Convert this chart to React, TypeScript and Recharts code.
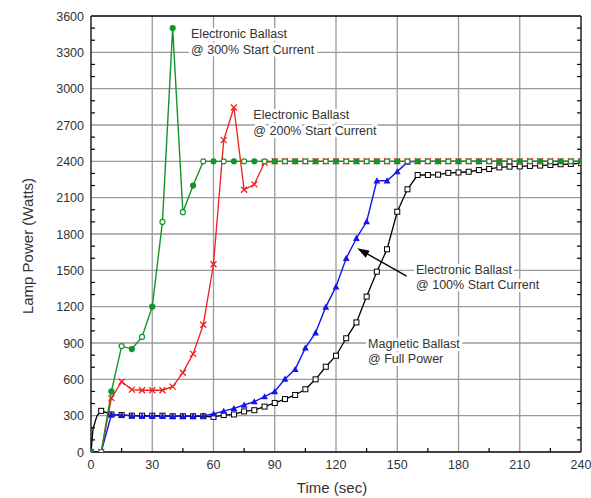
import React from "react";
import {
  LineChart,
  Line,
  XAxis,
  YAxis,
  CartesianGrid,
  ReferenceLine,
  ReferenceDot,
} from "recharts";

const xMajor = [30, 60, 90, 120, 150, 180, 210];
const xTicks = [0, 15, 30, 45, 60, 75, 90, 105, 120, 135, 150, 165, 180, 195, 210, 225, 240];
const yMajor = [300, 600, 900, 1200, 1500, 1800, 2100, 2400, 2700, 3000, 3300];
const yTicks = [
  0, 100, 200, 300, 400, 500, 600, 700, 800, 900, 1000, 1100, 1200, 1300, 1400, 1500, 1600, 1700,
  1800, 1900, 2000, 2100, 2200, 2300, 2400, 2500, 2600, 2700, 2800, 2900, 3000, 3100, 3200, 3300,
  3400, 3500, 3600,
];

const stepTime = [
  0, 5, 10, 15, 20, 25, 30, 35, 40, 45, 50, 55, 60, 65, 70, 75, 80, 85, 90, 95, 100, 105, 110, 115,
  120, 125, 130, 135, 140, 145, 150, 155, 160, 165, 170, 175, 180, 185, 190, 195, 200, 205, 210,
  215, 220, 225, 230, 235, 240,
];

// electronic ballast @ 300% start current
const green300 = [
  0, 0, 500, 875, 850, 950, 1200, 1900, 3500, 1980, 2200, 2400, 2400, 2400, 2400, 2400, 2400, 2400,
  2400, 2400, 2400, 2400, 2400, 2400, 2400, 2400, 2400, 2400, 2400, 2400, 2400, 2400, 2400, 2400,
  2400, 2400, 2400, 2400, 2400, 2400, 2400, 2400, 2400, 2400, 2400, 2400, 2400, 2400, 2400,
];

// electronic ballast @ 200% start current
const red200 = [
  0, 0, 445, 580, 515, 510, 510, 510, 540, 655, 810, 1050, 1550, 2575, 2845, 2165, 2210, 2390, 2400,
  2400, 2400, 2400, 2400, 2400, 2400, 2400, 2400, 2400, 2400, 2400, 2400, 2400, 2400, 2400, 2400,
  2400, 2400, 2400, 2400, 2400, 2400, 2400, 2400, 2400, 2400, 2400, 2400, 2400, 2400,
];

// electronic ballast @ 100% start current
const blue100 = [
  0, 0, 310, 305, 300, 295, 295, 295, 295, 295, 295, 300, 315, 338, 360, 388, 416, 457, 500, 603,
  683, 860, 985, 1198, 1365, 1600, 1765, 1902, 2240, 2240, 2315, 2395, 2400, 2400, 2400, 2400, 2400,
  2400, 2400, 2400, 2400, 2400, 2400, 2400, 2400, 2400, 2400, 2400, 2400,
];

// magnetic ballast @ full power
const magTime = [
  0, 1, 2, 3, 5, 10, 15, 20, 25, 30, 35, 40, 45, 50, 55, 60, 65, 70, 75, 80, 85, 90, 95, 100, 105,
  110, 115, 120, 125, 130, 135, 140, 145, 150, 155, 160, 165, 170, 175, 180, 185, 190, 195, 200, 205,
  210, 215, 220, 225, 230, 235, 240,
];
const magPower = [
  0, 190, 250, 300, 340, 310, 305, 300, 300, 300, 300, 295, 295, 295, 295, 290, 305, 310, 335, 345,
  375, 405, 437, 471, 518, 600, 704, 795, 939, 1070, 1283, 1489, 1674, 1984, 2169, 2287, 2287, 2290,
  2305, 2308, 2314, 2328, 2337, 2350, 2356, 2358, 2362, 2365, 2370, 2376, 2378, 2385,
];

const green = stepTime.map((t, i) => ({ t, w: green300[i] }));
const red = stepTime.map((t, i) => ({ t, w: red200[i] }));
const blue = stepTime.map((t, i) => ({ t, w: blue100[i] }));
const black = magTime.map((t, i) => ({ t, w: magPower[i] }));

const FONT = "'Liberation Sans', Arial, sans-serif";
const TEXT = "#333";
const GREEN = "#14932a";
const RED = "#f21d1d";
const BLUE = "#1414f0";

function BottomTick({ x, y, payload }: any) {
  const v = payload.value;
  const major = v % 30 === 0;
  return (
    <g>
      {!major && <line x1={x} x2={x} y1={y} y2={y - 4} stroke="#000" strokeWidth={1.2} />}
      {major && (
        <text x={x} y={y + 17} textAnchor="middle" fontSize={12.5} fontFamily={FONT} fill={TEXT}>
          {v}
        </text>
      )}
    </g>
  );
}

function TopTick({ x, y, payload }: any) {
  if (payload.value % 30 === 0) return <g />;
  return <line x1={x} x2={x} y1={y} y2={y + 4} stroke="#000" strokeWidth={1.2} />;
}

function LeftTick({ x, y, payload }: any) {
  const v = payload.value;
  const major = v % 300 === 0;
  return (
    <g>
      {!major && <line x1={x} x2={x + 4} y1={y} y2={y} stroke="#000" strokeWidth={1.2} />}
      {major && (
        <text x={x - 7} y={y + 4.5} textAnchor="end" fontSize={12.5} fontFamily={FONT} fill={TEXT}>
          {v}
        </text>
      )}
    </g>
  );
}

function RightTick({ x, y, payload }: any) {
  if (payload.value % 300 === 0) return <g />;
  return <line x1={x} x2={x - 4} y1={y} y2={y} stroke="#000" strokeWidth={1.2} />;
}

function GreenDot({ cx, cy, index }: any) {
  return (
    <circle
      key={index}
      cx={cx}
      cy={cy}
      r={2.5}
      fill={index % 2 === 0 ? GREEN : "#fff"}
      stroke={GREEN}
      strokeWidth={1.2}
    />
  );
}

function RedDot({ cx, cy, index }: any) {
  const s = 3;
  return (
    <path
      key={index}
      d={`M${cx - s},${cy - s}L${cx + s},${cy + s}M${cx - s},${cy + s}L${cx + s},${cy - s}`}
      stroke={RED}
      strokeWidth={1.3}
    />
  );
}

function BlueDot({ cx, cy, index }: any) {
  const s = 3.4;
  return (
    <polygon
      key={index}
      points={`${cx},${cy - s} ${cx - s},${cy + s * 0.8} ${cx + s},${cy + s * 0.8}`}
      fill={BLUE}
    />
  );
}

function BlackDot({ cx, cy, index, payload }: any) {
  if (payload.t % 5 !== 0) return <g key={index} />;
  return (
    <rect
      key={index}
      x={cx - 2.5}
      y={cy - 2.5}
      width={5}
      height={5}
      fill="#fff"
      stroke="#000"
      strokeWidth={1}
    />
  );
}

function Arrow({ x1, y1, x2, y2 }: any) {
  const a = Math.atan2(y2 - y1, x2 - x1);
  const len = 12;
  const half = 4;
  const bx = x2 - len * Math.cos(a);
  const by = y2 - len * Math.sin(a);
  const px = -Math.sin(a) * half;
  const py = Math.cos(a) * half;
  return (
    <g>
      <line x1={x1} y1={y1} x2={bx} y2={by} stroke="#000" strokeWidth={1.4} />
      <polygon points={`${x2},${y2} ${bx + px},${by + py} ${bx - px},${by - py}`} fill="#000" />
    </g>
  );
}

function note(lines: string[]) {
  return ({ cx, cy }: any) => (
    <g>
      {lines.map((s, i) => (
        <text
          key={i}
          x={cx}
          y={cy + i * 15.5 + 4.5}
          fontSize={12.5}
          fontFamily={FONT}
          fill={TEXT}
          stroke="#fff"
          strokeWidth={6}
          strokeLinejoin="round"
          style={{ paintOrder: "stroke" }}
        >
          {s}
        </text>
      ))}
    </g>
  );
}

function YTitle() {
  return (
    <text
      x={27}
      y={246}
      transform="rotate(-90 27 246)"
      textAnchor="middle"
      dominantBaseline="central"
      fontSize={15}
      fontFamily={FONT}
      fill={TEXT}
    >
      Lamp Power (Watts)
    </text>
  );
}

function XTitle() {
  return (
    <text x={332} y={493} textAnchor="middle" fontSize={15} fontFamily={FONT} fill={TEXT}>
      Time (sec)
    </text>
  );
}

export default function App() {
  return (
    <div style={{ position: "absolute", left: 0, top: 0, width: 591, height: 498, background: "#fff" }}>
      <LineChart width={591} height={498} margin={{ top: 0, right: 0, bottom: 0, left: 0 }}>
        <CartesianGrid
          verticalValues={xMajor}
          horizontalValues={yMajor}
          stroke="#9a9a9a"
          strokeWidth={1.3}
        />
        <XAxis
          dataKey="t"
          type="number"
          domain={[0, 240]}
          ticks={xTicks}
          interval={0}
          height={46}
          tickSize={0}
          tickMargin={0}
          tickLine={false}
          tick={<BottomTick />}
          axisLine={{ stroke: "#000", strokeWidth: 1.3 }}
          label={{ content: <XTitle /> }}
          allowDataOverflow
        />
        <XAxis
          xAxisId="top"
          orientation="top"
          type="number"
          domain={[0, 240]}
          ticks={xTicks}
          interval={0}
          height={16}
          tickSize={0}
          tickMargin={0}
          tickLine={false}
          tick={<TopTick />}
          axisLine={{ stroke: "#000", strokeWidth: 1.3 }}
          allowDataOverflow
        />
        <YAxis
          type="number"
          domain={[0, 3600]}
          ticks={yTicks}
          interval={0}
          width={91}
          tickSize={0}
          tickMargin={0}
          tickLine={false}
          tick={<LeftTick />}
          axisLine={{ stroke: "#000", strokeWidth: 1.3 }}
          label={{ content: <YTitle /> }}
          allowDataOverflow
        />
        <YAxis
          yAxisId="right"
          orientation="right"
          type="number"
          domain={[0, 3600]}
          ticks={yTicks}
          interval={0}
          width={10}
          tickSize={0}
          tickMargin={0}
          tickLine={false}
          tick={<RightTick />}
          axisLine={{ stroke: "#000", strokeWidth: 1.3 }}
          allowDataOverflow
        />
        <Line
          data={black}
          dataKey="w"
          type="linear"
          stroke="#000"
          strokeWidth={1.3}
          dot={BlackDot}
          activeDot={false}
          isAnimationActive={false}
        />
        <Line
          data={blue}
          dataKey="w"
          type="linear"
          stroke={BLUE}
          strokeWidth={1.4}
          dot={BlueDot}
          activeDot={false}
          isAnimationActive={false}
        />
        <Line
          data={red}
          dataKey="w"
          type="linear"
          stroke={RED}
          strokeWidth={1.3}
          dot={RedDot}
          activeDot={false}
          isAnimationActive={false}
        />
        <Line
          data={green}
          dataKey="w"
          type="linear"
          stroke={GREEN}
          strokeWidth={1.4}
          dot={GreenDot}
          activeDot={false}
          isAnimationActive={false}
        />
        <ReferenceLine
          segment={[
            { x: 154.6, y: 1453 },
            { x: 130.4, y: 1682 },
          ]}
          shape={Arrow}
        />
        <ReferenceDot x={49} y={3452} r={0} shape={note(["Electronic Ballast", "@ 300% Start Current"])} />
        <ReferenceDot x={79.5} y={2783} r={0} shape={note(["Electronic Ballast", "@ 200% Start Current"])} />
        <ReferenceDot x={159.2} y={1511} r={0} shape={note(["Electronic Ballast", "@ 100% Start Current"])} />
        <ReferenceDot x={135.7} y={900} r={0} shape={note(["Magnetic Ballast", "@ Full Power"])} />
      </LineChart>
    </div>
  );
}
